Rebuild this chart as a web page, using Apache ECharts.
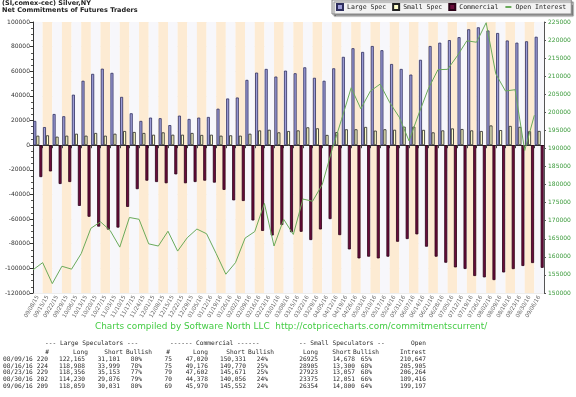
<!DOCTYPE html>
<html>
<head>
<meta charset="utf-8">
<script src="https://cdn.jsdelivr.net/npm/echarts@6/dist/echarts.min.js"></script>
<style>
html, body { margin: 0; padding: 0; background: #fff; }
#chart { width: 576px; height: 397px; }
</style>
</head>
<body>
<div id="chart"></div>
<script>
// weekly report dates
const dates = [
    '09/08/15', '09/15/15', '09/22/15', '09/29/15', '10/06/15', '10/13/15', '10/20/15', '10/27/15',
    '11/03/15', '11/10/15', '11/17/15', '11/24/15', '12/01/15', '12/08/15', '12/15/15', '12/22/15',
    '12/29/15', '01/05/16', '01/12/16', '01/19/16', '01/26/16', '02/02/16', '02/09/16', '02/16/16',
    '02/23/16', '03/01/16', '03/08/16', '03/15/16', '03/22/16', '03/29/16', '04/05/16', '04/12/16',
    '04/19/16', '04/26/16', '05/03/16', '05/10/16', '05/17/16', '05/24/16', '05/31/16', '06/07/16',
    '06/14/16', '06/21/16', '06/28/16', '07/05/16', '07/12/16', '07/19/16', '07/26/16', '08/02/16',
    '08/09/16', '08/16/16', '08/23/16', '08/30/16', '09/06/16'
];

const largeSpec = [
    19700, 14700, 25300, 23500, 41000, 52300, 57900, 62100, 58700, 39200,
    25900, 19700, 22400, 21900, 16300, 24000, 21300, 22400, 22900, 29600,
    37900, 38700, 53000, 58900, 61900, 55700, 60500, 58400, 63200, 54700,
    52300, 62400, 71700, 78700, 75700, 80500, 77100, 65900, 61900, 57300,
    69300, 80500, 83200, 85300, 87700, 94100, 95700, 93100,
    91064, 84989, 83203, 84354, 88028
];

const smallSpec = [
    7700, 8000, 6900, 7700, 9300, 7700, 9900, 7700, 9300, 11500,
    10700, 9900, 8500, 10400, 8500, 8500, 9900, 8300, 8500, 7700,
    8000, 7700, 9300, 12000, 12500, 10400, 11500, 12000, 14500, 13700,
    8300, 10600, 12900, 12900, 14800, 11800, 12900, 12500, 15000, 15000,
    12400, 10400, 12000, 13600, 13100, 12000, 11500, 16000,
    12247, 15605, 14866, 11324, 11554
];

const commercial = [
    -25900, -21300, -31500, -29900, -49300, -58100, -66100, -68500, -66900, -50100,
    -35700, -28800, -29900, -30900, -23700, -30900, -29900, -28800, -30400, -36300,
    -44800, -45300, -61100, -69600, -73300, -64800, -70600, -70300, -77000, -68400,
    -60000, -73000, -84600, -91900, -90500, -91900, -90500, -78400, -76200, -72400,
    -82400, -90500, -95400, -99200, -100500, -106200, -107300, -109500,
    -103311, -100594, -98069, -95678, -99582
];

const openInterest = [
    156400, 158400, 152600, 157400, 156600, 160900, 167900, 169700, 167300, 162700,
    170900, 170400, 163600, 163000, 167100, 161600, 165300, 167700, 166400, 160900,
    155200, 158400, 165200, 167000, 174800, 163000, 170400, 166200, 176000, 175400,
    180000, 189500, 198000, 206800, 201000, 205900, 207800, 202700, 198600, 192100,
    199500, 206500, 211800, 211900, 215600, 219800, 219400, 224800,
    210647, 205905, 206264, 189416, 199197
];

// table under the chart
const tableDates = ['08/09/16', '08/16/16', '08/23/16', '08/30/16', '09/06/16'];
const lsTraders = [220, 224, 229, 202, 209];
const lsLong = [122165, 118988, 118356, 114230, 118059];
const lsShort = [31101, 33999, 35153, 29876, 30031];
const lsBull = [80, 78, 77, 79, 80];
const cmTraders = [75, 75, 79, 70, 69];
const cmLong = [47020, 49176, 47602, 44378, 45970];
const cmShort = [150331, 149770, 145671, 140056, 145552];
const cmBull = [24, 25, 25, 24, 24];
const ssLong = [26925, 28905, 27923, 23375, 26354];
const ssShort = [14678, 13300, 13057, 12051, 14800];
const ssBull = [65, 68, 68, 66, 64];
const oiTable = [210647, 205905, 206264, 189416, 199197];

const colorLarge = '#9d9dd8';
const colorSmall = '#ffffcc';
const colorComm = '#6a0c3b';
const colorOI = '#6aaa5a';
const tableFont = '6.2px "DejaVu Sans Mono", monospace';

function comma(v) {
    return v.toLocaleString('en-US');
}

function txt(x, y, text, align, font, fill) {
    return {
        type: 'text',
        x: x,
        y: y,
        silent: true,
        style: {
            text: text,
            font: font || tableFont,
            fill: fill || '#2a2a2a',
            textAlign: align || 'left',
            textVerticalAlign: 'middle',
            align: align || 'left',
            verticalAlign: 'middle'
        }
    };
}

const graphics = [];
graphics.push(txt(95, 327,
    'Charts compiled by Software North LLC  http://cotpricecharts.com/commitmentscurrent/',
    'left', '8.9px "DejaVu Sans", sans-serif', '#44cc44'));

// headers
graphics.push(txt(45, 343, '--- Large Speculators ---', 'left'));
graphics.push(txt(170, 343, '------ Commercial ------', 'left'));
graphics.push(txt(299, 343, '-- Small Speculators --', 'left'));
graphics.push(txt(426, 343, 'Open', 'right'));
graphics.push(txt(49, 352, '#', 'right'));
graphics.push(txt(88, 352, 'Long', 'right'));
graphics.push(txt(123, 352, 'Short', 'right'));
graphics.push(txt(126, 352, 'Bullish', 'left'));
graphics.push(txt(170, 352, '#', 'right'));
graphics.push(txt(208, 352, 'Long', 'right'));
graphics.push(txt(245, 352, 'Short', 'right'));
graphics.push(txt(248, 352, 'Bullish', 'left'));
graphics.push(txt(318, 352, 'Long', 'right'));
graphics.push(txt(351, 352, 'Short', 'right'));
graphics.push(txt(353, 352, 'Bullish', 'left'));
graphics.push(txt(426, 352, 'Intrest', 'right'));

tableDates.forEach(function (d, i) {
    const y = 359.3 + i * 6.7;
    graphics.push(txt(3, y, d, 'left'));
    graphics.push(txt(48, y, String(lsTraders[i]), 'right'));
    graphics.push(txt(85, y, comma(lsLong[i]), 'right'));
    graphics.push(txt(120, y, comma(lsShort[i]), 'right'));
    graphics.push(txt(142, y, lsBull[i] + '%', 'right'));
    graphics.push(txt(172, y, String(cmTraders[i]), 'right'));
    graphics.push(txt(208, y, comma(cmLong[i]), 'right'));
    graphics.push(txt(246, y, comma(cmShort[i]), 'right'));
    graphics.push(txt(268, y, cmBull[i] + '%', 'right'));
    graphics.push(txt(318, y, String(ssLong[i]), 'right'));
    graphics.push(txt(355, y, comma(ssShort[i]), 'right'));
    graphics.push(txt(372, y, ssBull[i] + '%', 'right'));
    graphics.push(txt(426, y, comma(oiTable[i]), 'right'));
});

const option = {
    animation: false,
    backgroundColor: '#ffffff',
    title: {
        text: '(SI,comex-cec) Silver,NY\nNet Commitments of Futures Traders',
        left: 2,
        top: 0,
        padding: 0,
        textStyle: {
            fontFamily: 'DejaVu Sans',
            fontWeight: 'bold',
            fontSize: 6.5,
            lineHeight: 7,
            color: '#222'
        }
    },
    legend: {
        left: 332,
        top: 0,
        padding: [3, 5, 3, 4],
        itemWidth: 6,
        itemHeight: 6,
        itemGap: 6,
        backgroundColor: '#f3f3f3',
        borderColor: '#888',
        borderWidth: 1,
        shadowColor: 'rgba(0,0,0,0.45)',
        shadowOffsetX: 2,
        shadowOffsetY: 2,
        shadowBlur: 1,
        textStyle: {
            fontFamily: 'DejaVu Sans Mono',
            fontSize: 6.5,
            color: '#222',
            padding: [0, 0, 0, -1]
        },
        data: [
            { name: 'Large Spec', icon: 'rect' },
            { name: 'Small Spec', icon: 'rect' },
            { name: 'Commercial', icon: 'rect' },
            { name: 'Open Interest', itemStyle: { opacity: 0 } }
        ]
    },
    grid: {
        left: 33,
        right: 32,
        top: 22,
        bottom: 104,
        containLabel: false
    },
    xAxis: [{
        type: 'category',
        data: dates,
        boundaryGap: true,
        axisLine: { lineStyle: { color: '#333', width: 1 } },
        axisTick: { show: true, length: 3, interval: 0, lineStyle: { color: '#444' } },
        axisLabel: {
            interval: 0,
            rotate: 60,
            fontSize: 5.5,
            fontFamily: 'DejaVu Sans',
            color: '#666',
            margin: 3
        },
        splitLine: { show: false },
        splitArea: {
            show: true,
            interval: 0,
            areaStyle: { color: ['#f7f7fb', '#fdebd3'] }
        }
    }, {
        type: 'category',
        data: dates.concat(['']),
        boundaryGap: false,
        show: false
    }],
    yAxis: [{
        type: 'value',
        min: -120000,
        max: 100000,
        interval: 20000,
        axisLine: { show: true, lineStyle: { color: '#333' } },
        axisTick: { show: true, length: 3, lineStyle: { color: '#333' } },
        minorTick: { show: true, splitNumber: 4, length: 2, lineStyle: { color: '#555' } },
        axisLabel: {
            fontSize: 6,
            fontFamily: 'DejaVu Sans',
            color: '#333',
            margin: 3,
            formatter: function (v) { return String(v); }
        },
        splitLine: { show: true, lineStyle: { color: 'rgba(0,0,0,0.07)' } }
    }, {
        type: 'value',
        position: 'right',
        min: 150000,
        max: 225000,
        interval: 5000,
        axisLine: { show: true, lineStyle: { color: '#555' } },
        axisTick: { show: true, length: 2, lineStyle: { color: '#555' } },
        axisLabel: {
            fontSize: 6,
            fontFamily: 'DejaVu Sans',
            color: '#3a9a3a',
            margin: 4,
            formatter: function (v) { return String(v); }
        },
        splitLine: { show: false }
    }],
    series: [{
        name: 'Large Spec',
        type: 'bar',
        data: largeSpec,
        barWidth: 3,
        barGap: '0%',
        itemStyle: { color: colorLarge, borderColor: '#2e2e5e', borderWidth: 0.8 }
    }, {
        name: 'Small Spec',
        type: 'bar',
        data: smallSpec,
        barWidth: 3,
        barGap: '0%',
        itemStyle: { color: colorSmall, borderColor: '#222', borderWidth: 0.8 }
    }, {
        name: 'Commercial',
        type: 'bar',
        data: commercial,
        barWidth: 3,
        barGap: '0%',
        itemStyle: { color: colorComm, borderColor: '#2a0016', borderWidth: 0.8 }
    }, {
        name: 'Open Interest',
        type: 'line',
        xAxisIndex: 1,
        yAxisIndex: 1,
        data: openInterest,
        symbol: 'none',
        showSymbol: false,
        lineStyle: { color: colorOI, width: 1 },
        itemStyle: { color: colorOI }
    }],
    graphic: graphics
};

const chart = echarts.init(document.getElementById('chart'));
chart.setOption(option);
</script>
</body>
</html>
